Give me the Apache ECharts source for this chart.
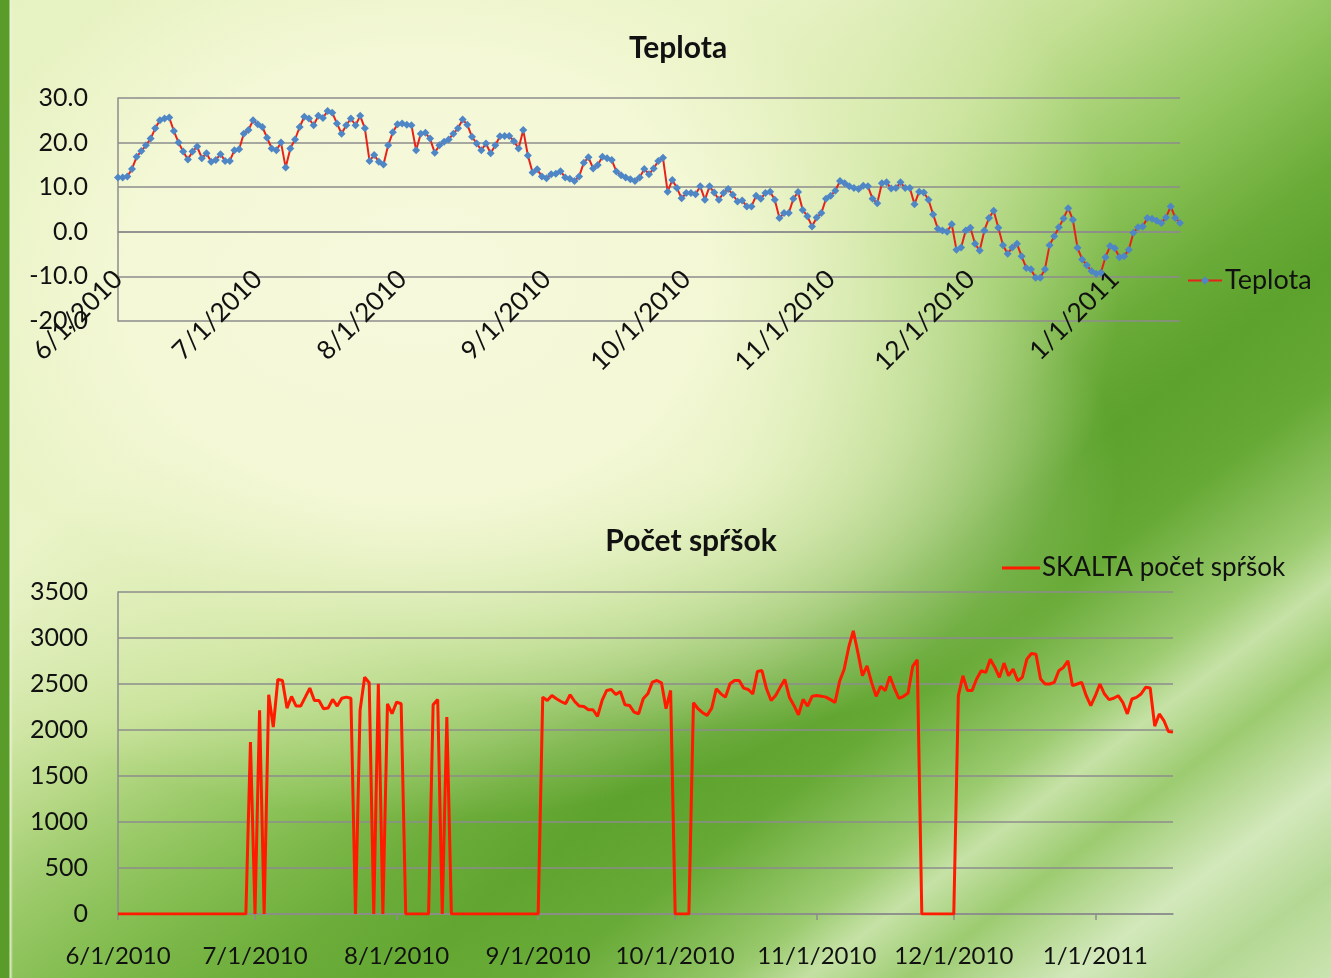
<!DOCTYPE html>
<html>
<head>
<meta charset="utf-8">
<script src="https://cdn.jsdelivr.net/npm/echarts@6/dist/echarts.min.js"></script>
<style>
  html, body { margin:0; padding:0; width:1331px; height:978px; overflow:hidden; }
  #bg {
    position:absolute; left:0; top:0; width:1331px; height:978px;
    background:
      linear-gradient(to right, #5a9c2a 0px, #5a9c2a 9px, rgba(236,244,214,0.9) 10px, rgba(236,244,214,0) 13px),
      radial-gradient(ellipse 700px 540px at 420px 280px, #f6f9dc 0%, rgba(244,248,214,0.97) 42%, rgba(230,242,192,0.6) 68%, rgba(220,236,180,0) 100%),
      radial-gradient(ellipse 420px 260px at 700px 470px, rgba(240,246,210,0.8) 0%, rgba(240,246,210,0) 100%),
      radial-gradient(ellipse 600px 300px at 250px 1010px, rgba(112,176,62,0.55) 0%, rgba(112,176,62,0) 100%),
      linear-gradient(143deg, #e8f2c4 0%, #eef5cf 28%, #c2df92 42%, #8ec45a 52%, #6aab38 59%, #5ca22c 64%, #66a935 70%, #9ccb70 77%, #c6e2a6 80%, #9ccb70 84%, #d3e8bb 90%, #b4d894 95%, #cbe4b0 100%);
  }
  #chart { position:absolute; left:0; top:0; width:1331px; height:978px; }
</style>
</head>
<body>
<div id="bg"></div>
<div id="chart"></div>
<script>
// Daily temperature (Teplota), starting 6/1/2010
const teplota = [
  12.2,12.2,12.4,14.1,16.8,18.1,19.4,20.9,23.2,25.0,
  25.4,25.6,22.6,20.0,18.0,16.2,18.0,19.1,16.5,17.6,
  15.7,16.1,17.4,15.9,15.9,18.3,18.5,22.0,22.8,25.0,
  24.1,23.5,21.1,18.7,18.3,20.0,14.4,18.7,20.7,23.5,
  25.8,25.4,23.9,26.0,25.5,27.1,26.7,24.3,22.0,23.9,
  25.4,23.9,26.0,23.2,15.9,17.2,15.7,15.1,19.4,22.3,
  24.1,24.3,24.0,23.9,18.3,22.0,22.2,20.9,17.7,19.4,
  20.2,20.7,22.0,23.2,25.2,24.0,21.3,19.8,18.3,19.8,
  17.6,19.4,21.4,21.5,21.5,20.3,18.7,22.8,17.1,13.3,
  14.0,12.4,12.0,12.9,13.0,13.6,12.2,11.9,11.4,12.4,
  15.5,16.7,14.2,15.0,16.8,16.5,16.1,13.5,12.7,12.2,
  11.8,11.4,12.2,14.1,12.9,14.2,15.9,16.6,9.0,11.6,
  9.8,7.5,8.7,8.7,8.4,10.2,7.2,10.2,8.8,7.2,
  8.7,9.6,8.3,6.8,7.0,5.7,5.7,8.1,7.4,8.7,
  9.0,7.2,3.1,4.2,4.2,7.4,8.9,4.9,3.5,
  1.2,3.2,4.2,7.4,8.1,9.2,11.4,10.9,10.2,9.8,
  9.6,10.3,10.2,7.4,6.4,10.9,11.1,9.7,9.8,11.1,
  9.8,9.8,6.2,9.0,8.8,7.2,3.9,0.7,0.3,0.0,
  1.7,-4.0,-3.5,0.3,0.9,-2.7,-4.2,0.3,3.1,4.7,
  0.9,-3.0,-4.9,-3.5,-2.7,-5.5,-8.1,-8.4,-10.3,-10.3,
  -8.4,-3.0,-1.0,1.0,3.0,5.3,2.7,-3.6,-6.2,-7.5,
  -8.8,-9.4,-9.2,-5.7,-3.2,-3.7,-5.7,-5.5,-4.0,-0.2,
  1.0,1.2,3.1,2.9,2.5,2.0,3.2,5.7,3.1,2.0
];

// Daily count of showers (SKALTA počet spŕšok), starting 6/1/2010
const sprsky = [
  0,0,0,0,0,0,0,0,0,0,
  0,0,0,0,0,0,0,0,0,0,
  0,0,0,0,0,0,0,0,0,
  1870,0,2213,0,2383,2032,2549,2538,2238,2364,2260,
  2260,2357,2455,2321,2321,2231,2238,2332,2260,2346,2357,2346,
  0,2213,2574,2513,0,2502,0,2285,2177,2303,2285,
  0,0,0,0,0,0,
  2274,2332,0,2141,
  0,0,0,0,0,0,0,0,0,0,
  0,0,0,0,0,0,0,0,0,0,
  2357,2321,2375,2339,2310,2285,2383,2310,2260,2256,2220,2220,2148,2321,2430,
  2440,2386,2419,2274,2267,2195,2177,2339,2393,2520,2538,2513,2231,2430,
  0,0,0,0,
  2296,2231,2188,2159,2238,2448,2393,2357,2502,2538,2538,2455,2440,2393,
  2635,2646,2448,2321,2375,2466,2549,2357,2267,2166,2332,2260,2368,
  2375,2368,2357,2330,2300,2530,2660,2900,3077,2842,2590,2698,2518,2366,
  2474,2428,2583,2453,2345,2366,2402,2691,2763,
  0,0,0,0,0,0,0,0,
  2373,2590,2428,2428,2554,2644,2626,2770,2680,2572,2727,2590,2662,2536,
  2572,2770,2832,2824,2554,2500,2500,2518,2644,2680,2752,2482,2500,2518,
  2373,2265,2373,2500,2391,2330,2345,2373,2301,2175,2337,2355,2391,2464,
  2456,2042,2175,2103,1984,1977
];

const startDate = [2010, 5, 1]; // 6/1/2010 (month 0-based)
const tempTicks = [-20, -10, 0, 10, 20, 30];
const countTicks = [0, 500, 1000, 1500, 2000, 2500, 3000, 3500];

function makeDates(n) {
  const out = [];
  for (let i = 0; i < n; i++) {
    const d = new Date(startDate[0], startDate[1], startDate[2] + i);
    out.push((d.getMonth() + 1) + '/' + d.getDate() + '/' + d.getFullYear());
  }
  return out;
}
const datesTop = makeDates(teplota.length);
const datesBottom = makeDates(sprsky.length);
const isMonthStart = (idx, val) => /^\d+\/1\/\d+$/.test(val);

const FONT = 'Lato';
const gridColor = '#8c8c8c';

const chart = echarts.init(document.getElementById('chart'));
chart.setOption({
  animation: false,
  backgroundColor: 'transparent',
  textStyle: { fontFamily: FONT, color: '#111' },
  title: [
    { text: 'Teplota', left: 673, top: 28, textAlign: 'center',
      textStyle: { fontFamily: FONT, fontSize: 30, fontWeight: 'bold', color: '#111' } },
    { text: 'Počet spŕšok', left: 686, top: 521, textAlign: 'center',
      textStyle: { fontFamily: FONT, fontSize: 30, fontWeight: 'bold', color: '#111' } }
  ],
  legend: [
    { data: ['Teplota'], left: 1182, top: 262, itemWidth: 34, itemHeight: 10, itemGap: 5,
      textStyle: { fontFamily: FONT, fontSize: 27, color: '#111', padding: [0, 0, 0, -2] } },
    { data: [{ name: 'SKALTA počet spŕšok', icon: 'path://M0,0H38V3H0Z' }], left: 997, top: 550,
      itemWidth: 38, itemHeight: 3, itemStyle: { color: '#ff1a00' },
      textStyle: { fontFamily: FONT, fontSize: 26, color: '#111', padding: [0, 0, 0, -3] } }
  ],
  grid: [
    { left: 118, right: 151, top: 98, bottom: 657 },
    { left: 118, right: 158, top: 592, bottom: 64 }
  ],
  xAxis: [
    { type: 'category', gridIndex: 0, data: datesTop, boundaryGap: false,
      axisLine: { lineStyle: { color: gridColor, width: 1.5 } },
      axisTick: { show: false },
      axisLabel: { interval: isMonthStart, rotate: 45, margin: -46, fontSize: 26,
        fontFamily: FONT, color: '#111' } },
    { type: 'category', gridIndex: 1, data: datesBottom, boundaryGap: false,
      axisLine: { lineStyle: { color: gridColor, width: 1.5 } },
      axisTick: { show: true, interval: isMonthStart, length: 6, lineStyle: { color: gridColor, width: 1.5 } },
      axisLabel: { interval: isMonthStart, margin: 30, fontSize: 24, fontFamily: FONT, color: '#111' } }
  ],
  yAxis: [
    { type: 'value', gridIndex: 0, min: tempTicks[0], max: tempTicks[tempTicks.length - 1], interval: 10,
      axisLine: { show: true, lineStyle: { color: gridColor, width: 1.5 } },
      axisTick: { show: false },
      splitLine: { lineStyle: { color: gridColor, width: 1.5 } },
      axisLabel: { formatter: v => v.toFixed(1), fontSize: 25, margin: 30, fontFamily: FONT, color: '#111' } },
    { type: 'value', gridIndex: 1, min: countTicks[0], max: countTicks[countTicks.length - 1], interval: 500,
      axisLine: { show: true, lineStyle: { color: gridColor, width: 1.5 } },
      axisTick: { show: false },
      splitLine: { lineStyle: { color: gridColor, width: 1.5 } },
      axisLabel: { formatter: v => String(v), fontSize: 25, margin: 30, fontFamily: FONT, color: '#111' } }
  ],
  series: [
    { type: 'line', name: 'Teplota', xAxisIndex: 0, yAxisIndex: 0, data: teplota,
      symbol: 'diamond', symbolSize: 8, showSymbol: true, showAllSymbol: true,
      lineStyle: { color: '#e5231b', width: 2 },
      itemStyle: { color: '#4f86c6' } },
    { type: 'line', name: 'SKALTA počet spŕšok', xAxisIndex: 1, yAxisIndex: 1, data: sprsky,
      symbol: 'none', showSymbol: false,
      lineStyle: { color: '#ff1a00', width: 3 },
      itemStyle: { color: '#ff1a00' } }
  ]
});
</script>
</body>
</html>
